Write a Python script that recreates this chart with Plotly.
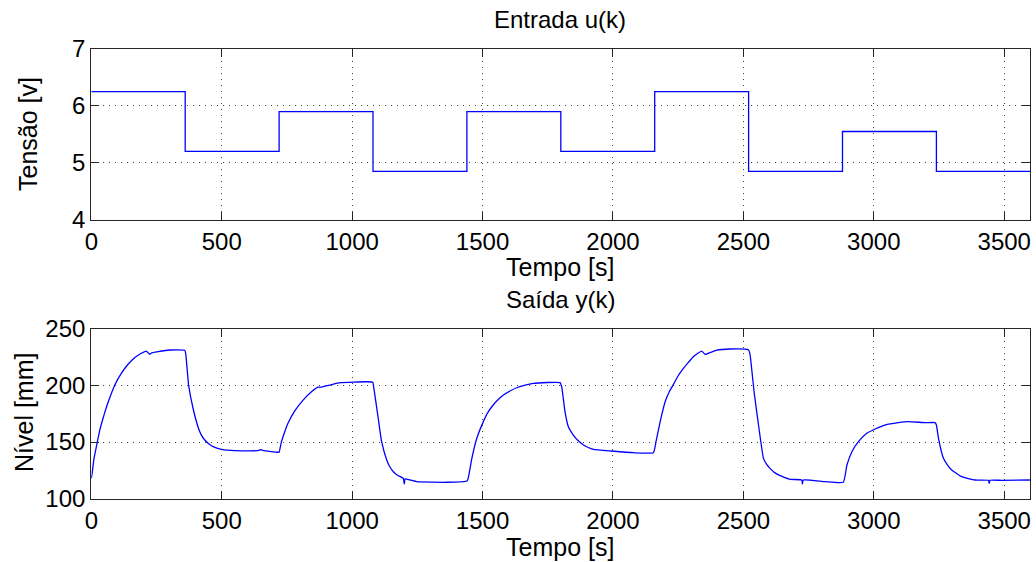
import plotly.graph_objects as go

# ---- Data ----
t_in = [0, 360, 720, 1080, 1440, 1800, 2160, 2520, 2880, 3240, 3600]
u_in = [6.25, 5.2, 5.9, 4.85, 5.9, 5.2, 6.25, 4.85, 5.55, 4.85, 4.85]

t_out = [0, 3, 10, 23, 33, 45, 57, 70, 90, 115, 141, 166, 192, 211, 224, 230, 256, 300, 358,
         362, 373, 390, 409, 420, 435, 450, 467, 499, 550, 639, 650, 660, 716, 720,
         729, 740, 754, 780, 812, 844, 869, 877, 915, 954, 1056, 1079,
         1083, 1100, 1113, 1133, 1145, 1158, 1175, 1196, 1200, 1203, 1248, 1363, 1440,
         1445, 1459, 1478, 1503, 1520, 1541, 1560, 1580, 1605, 1631, 1660, 1695, 1797,
         1804, 1816, 1829, 1848, 1865, 1887, 1905, 1925, 1995, 2078, 2155,
         2165, 2181, 2200, 2215, 2232, 2250, 2270, 2290, 2308, 2340, 2353, 2398, 2449, 2519,
         2525, 2541, 2558, 2577, 2590, 2602, 2620, 2641, 2679, 2724, 2726, 2730, 2813, 2883,
         2897, 2916, 2941, 2973, 3005, 3043, 3094, 3133, 3197, 3235,
         3240, 3248, 3267, 3285, 3299, 3337, 3388, 3440, 3442, 3446, 3491, 3600]
y_out = [118, 122, 135, 150, 161, 171, 180, 188.6, 200.3, 210.6, 218.6, 224.4, 228.3, 230.3, 227.4, 228.5, 229.7, 231.2, 231,
         228, 200.3, 179.8, 163.5, 157, 151.8, 148.5, 145.9, 143.6, 142.4, 142.4, 143.2, 142.4, 141, 141,
         150.3, 158, 166.5, 177.4, 187, 194.4, 198.5, 198.3, 200.3, 202.4, 203.2, 202.7,
         198, 171, 150.3, 134, 128, 123.8, 120.5, 118, 113, 117.5, 115, 114.5, 115.6,
         118, 135.6, 153.3, 168, 176, 182.7, 187.5, 191.5, 195, 197.9, 200, 201.8, 202.4,
         198, 176.8, 163.5, 156.2, 151.5, 147.4, 145.2, 143.6, 142.1, 140.6, 140.6,
         150.3, 168, 185.6, 194, 200.9, 208.5, 215, 220.5, 225.3, 230.3, 227.4, 231.2, 232.1, 231.5,
         228, 194.4, 165, 135.6, 130, 126.8, 123, 120.3, 117.1, 116.5, 113, 116.5, 115, 114.5,
         129.7, 141.5, 150.3, 157.7, 161.5, 165, 167.1, 168, 167.1, 167.1,
         165, 153.3, 135.6, 129, 125.3, 119.4, 116.5, 116.2, 113.5, 116.2, 116.2, 116.5]

x_ticks = [0, 500, 1000, 1500, 2000, 2500, 3000, 3500]
u_ticks = [4, 5, 6, 7]
y_ticks = [100, 150, 200, 250]

FONT = "Liberation Sans, Arial, sans-serif"
BLUE = "#0000FF"

fig = go.Figure()
fig.add_trace(go.Scatter(x=t_in, y=u_in, mode="lines", line=dict(color=BLUE, width=1.3, shape="hv"),
                         xaxis="x", yaxis="y", showlegend=False))
fig.add_trace(go.Scatter(x=t_out, y=y_out, mode="lines", line=dict(color=BLUE, width=1.3, shape="spline", smoothing=0.4),
                         xaxis="x2", yaxis="y2", showlegend=False))

xd = [91.3 / 1036, 1030.3 / 1036]
axis_common = dict(showline=True, linecolor="#262626", linewidth=1.2, mirror="ticks",
                   ticks="inside", ticklen=8, tickcolor="#262626", tickwidth=1,
                   showgrid=True, gridcolor="#444444", griddash="1px,5px", gridwidth=1,
                   zeroline=False, tickfont=dict(family=FONT, size=24, color="black"),
                   automargin=False)

fig.update_layout(
    width=1036, height=562,
    margin=dict(l=0, r=0, t=0, b=0),
    paper_bgcolor="white", plot_bgcolor="white",
    xaxis=dict(domain=xd, range=[0, 3600], tickvals=x_ticks, anchor="y", **axis_common),
    yaxis=dict(domain=[1 - 219.7 / 562, 1 - 49 / 562], range=[4, 7], tickvals=u_ticks, anchor="x", **axis_common),
    xaxis2=dict(domain=xd, range=[0, 3600], tickvals=x_ticks, anchor="y2", **axis_common),
    yaxis2=dict(domain=[1 - 498.7 / 562, 1 - 328.7 / 562], range=[100, 250], tickvals=y_ticks, anchor="x2", **axis_common),
)

def ann(text, x, y, size, angle=0):
    fig.add_annotation(text=text, x=x / 1036, y=1 - y / 562, xref="paper", yref="paper",
                       showarrow=False, textangle=angle, xanchor="center", yanchor="middle",
                       font=dict(family=FONT, size=size, color="black"))

ann("Entrada u(k)", 560, 20, 24)
ann("Tempo [s]", 560, 267, 25)
ann("Tensão [v]", 28, 134, 25, -90)
ann("Saída y(k)", 560, 300, 24)
ann("Tempo [s]", 560, 547, 25)
ann("Nível [mm]", 24, 413, 25, -90)

fig.write_html("out.html")
